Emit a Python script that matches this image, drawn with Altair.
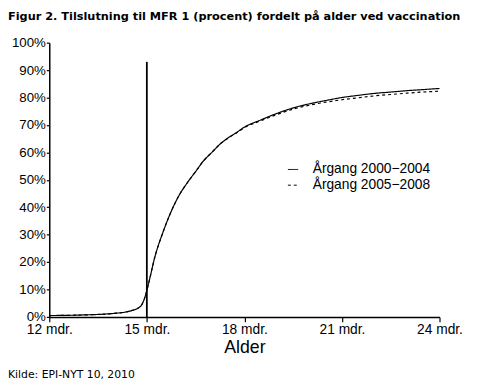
import altair as alt
import pandas as pd

# Data
months = [12.0, 13.0, 14.0, 14.5, 14.8, 14.95, 15.05, 15.25, 15.5, 15.75, 16.0, 16.25, 16.5,
          16.75, 17.0, 17.25, 17.5, 17.75, 18.0, 18.5, 19.0, 19.5, 20.0, 20.5, 21.0, 21.5,
          22.0, 22.5, 23.0, 23.5, 24.0]
cohort_2000_2004 = [0.5, 0.7, 1.3, 2.2, 3.8, 7.5, 12.0, 22.0, 31.0, 38.5, 44.5, 49.0, 53.0,
                    57.0, 60.0, 63.0, 65.3, 67.2, 69.2, 71.8, 74.2, 76.2, 77.7, 78.9, 80.0, 80.8,
                    81.5, 82.0, 82.5, 82.9, 83.3]
cohort_2005_2008 = [0.5, 0.7, 1.3, 2.2, 3.8, 7.5, 12.0, 22.0, 31.0, 38.5, 44.5, 49.0, 53.0,
                    57.0, 60.0, 63.0, 65.2, 67.0, 69.0, 71.5, 73.8, 75.8, 77.2, 78.3, 79.2, 79.9,
                    80.6, 81.1, 81.6, 82.0, 82.3]
series_names = ["Årgang 2000−2004", "Årgang 2005−2008"]
x_ticks = [12, 15, 18, 21, 24]
y_ticks = [0, 10, 20, 30, 40, 50, 60, 70, 80, 90, 100]
vline_month = [15]
vline_top = [93]

title_text = "Figur 2. Tilslutning til MFR 1 (procent) fordelt på alder ved vaccination"
source_text = "Kilde: EPI-NYT 10, 2010"

rows = []
for m, v in zip(months, cohort_2000_2004):
    rows.append({"Alder": m, "Tilslutning": v, "Årgang": series_names[0]})
for m, v in zip(months, cohort_2005_2008):
    rows.append({"Alder": m, "Tilslutning": v, "Årgang": series_names[1]})
df = pd.DataFrame(rows)
vdf = pd.DataFrame({"Alder": vline_month, "Tilslutning": vline_top, "bottom": [0]})

AX = "Liberation Sans"

x_axis = alt.Axis(values=x_ticks, labelExpr="datum.value + ' mdr.'",
                  title="Alder", grid=False, tickSize=5, labelPadding=1,
                  titlePadding=2, labelFlush=False, labelOverlap=False)
y_axis = alt.Axis(values=y_ticks, labelExpr="datum.value + '%'", title=None,
                  grid=False, tickSize=3, labelPadding=1, labelOverlap=False,
                  labelFontSize=13.5)
x_scale = alt.Scale(domain=[12, 24], nice=False, zero=False)
y_scale = alt.Scale(domain=[0, 100], nice=False)

lines = alt.Chart(df).mark_line(color="black", strokeWidth=1.2, interpolate="monotone").encode(
    x=alt.X("Alder:Q", scale=x_scale, axis=x_axis),
    y=alt.Y("Tilslutning:Q", scale=y_scale, axis=y_axis),
    strokeDash=alt.StrokeDash("Årgang:N",
                              scale=alt.Scale(domain=series_names, range=[[1, 0], [3, 3]]),
                              legend=alt.Legend(title=None, orient="none", legendX=241,
                                                legendY=122, symbolType="stroke",
                                                symbolSize=110, symbolStrokeColor="black",
                                                symbolStrokeWidth=1, labelFont=AX,
                                                labelFontSize=14, labelColor="black",
                                                rowPadding=2, padding=0, labelOffset=13)),
)

vline = alt.Chart(vdf).mark_rule(color="black", strokeWidth=1.8).encode(
    x=alt.X("Alder:Q", scale=x_scale, axis=x_axis),
    y=alt.Y("Tilslutning:Q", scale=y_scale, axis=y_axis),
    y2="bottom:Q")

title = alt.Chart(pd.DataFrame({"t": [title_text]})).mark_text(
    align="left", baseline="alphabetic", font="DejaVu Sans", fontWeight="bold",
    fontSize=11.5, color="black").encode(text="t:N", x=alt.value(-42), y=alt.value(-23))

source = alt.Chart(pd.DataFrame({"t": [source_text]})).mark_text(
    align="left", baseline="alphabetic", font="DejaVu Sans",
    fontSize=11, color="black").encode(text="t:N", x=alt.value(-42), y=alt.value(341))

chart = alt.layer(lines, vline, title, source).properties(
    width=397, height=279,
    autosize=alt.AutoSizeParams(type="none"),
    padding={"left": 42, "top": 32, "right": 30, "bottom": 66},
).configure_view(stroke=None).configure_axis(
    domainColor="black", domainWidth=1.5, tickColor="black", tickWidth=1.2,
    labelFont=AX, labelFontSize=14, labelColor="black",
    titleFont=AX, titleFontSize=18, titleColor="black", titleFontWeight="normal"
)

chart.save("out.html", embed_options={"renderer": "svg", "actions": False})
